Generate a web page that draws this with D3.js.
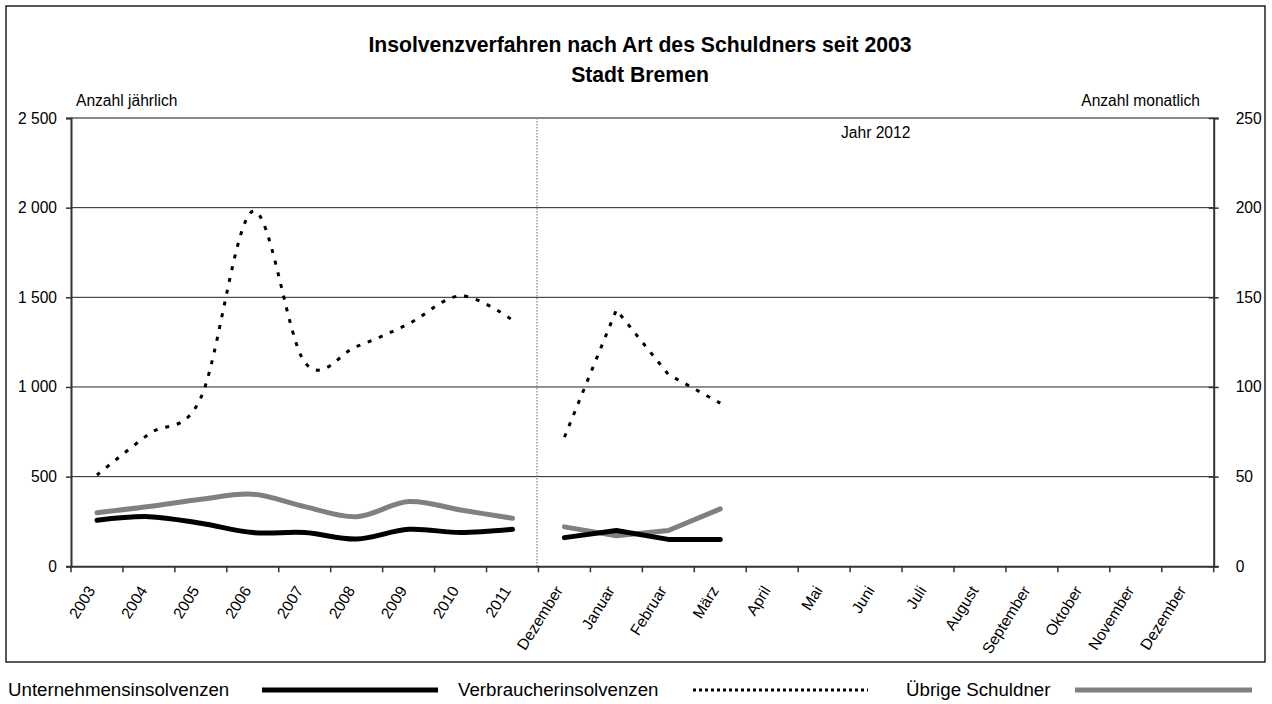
<!DOCTYPE html>
<html>
<head>
<meta charset="utf-8">
<script src="https://cdn.jsdelivr.net/npm/d3@7"></script>
<style>
  body { margin: 0; background: #fff; }
  svg { font-family: "Liberation Sans", Arial, sans-serif; }
</style>
</head>
<body>
<div id="chart"></div>
<script>
// Kategorien: Jahre 2003-2011, danach Monate (Dezember 2011 bis Dezember 2012)
var years = ["2003", "2004", "2005", "2006", "2007", "2008", "2009", "2010", "2011"];
var months = ["Dezember", "Januar", "Februar", "März", "April", "Mai", "Juni", "Juli",
              "August", "September", "Oktober", "November", "Dezember"];

// jährliche Werte (linke Achse)
var unternehmenJahr = [257, 277, 240, 188, 188, 152, 206, 188, 206];
var verbraucherJahr = [509, 738, 940, 1980, 1138, 1226, 1352, 1508, 1373];
var uebrigeJahr = [299, 333, 374, 402, 333, 277, 361, 314, 268];

// monatliche Werte (rechte Achse), Dezember 2011 bis März 2012
var unternehmenMonat = [16, 20, 15, 15];
var verbraucherMonat = [72, 143, 107, 91];
var uebrigeMonat = [22, 17, 20, 32];

var leftTicks = [0, 500, 1000, 1500, 2000, 2500];
var rightTicks = [0, 50, 100, 150, 200, 250];

var svgWidth = 1272;
var svgHeight = 704;

var margin = { top: 118, left: 71, right: 1272 - 1213.7, bottom: 704 - 566.3 };
var width = svgWidth - margin.left - margin.right;
var height = svgHeight - margin.top - margin.bottom;

var labels = years.concat(months);

var svg = d3.select("#chart")
  .append("svg")
  .attr("width", svgWidth)
  .attr("height", svgHeight);

// Rahmen um das Diagramm
svg.append("rect")
  .attr("x", 6).attr("y", 6)
  .attr("width", 1259).attr("height", 656)
  .attr("fill", "none")
  .attr("stroke", "#000")
  .attr("stroke-width", 1.3);

svg.append("text")
  .attr("x", 640).attr("y", 52)
  .attr("text-anchor", "middle")
  .attr("font-size", "21.2px")
  .attr("font-weight", "bold")
  .text("Insolvenzverfahren nach Art des Schuldners seit 2003");

svg.append("text")
  .attr("x", 640).attr("y", 82)
  .attr("text-anchor", "middle")
  .attr("font-size", "21.2px")
  .attr("font-weight", "bold")
  .text("Stadt Bremen");

var chartGroup = svg.append("g")
  .attr("transform", `translate(${margin.left}, ${margin.top})`);

var xScale = d3.scaleBand()
  .domain(d3.range(labels.length))
  .range([0, width])
  .paddingInner(0)
  .paddingOuter(0);

var yLeft = d3.scaleLinear().domain([0, 2500]).range([height, 0]);
var yRight = d3.scaleLinear().domain([0, 250]).range([height, 0]);

var cx = i => xScale(i) + xScale.bandwidth() / 2;
var fmt = d => d3.format(",")(d).replace(",", " ");

// Gitterlinien
chartGroup.selectAll(".grid")
  .data(leftTicks.filter(d => d > 0))
  .enter()
  .append("line")
  .attr("x1", 0).attr("x2", width)
  .attr("y1", d => yLeft(d)).attr("y2", d => yLeft(d))
  .attr("stroke", d => d === 2500 ? "#888" : "#222")
  .attr("stroke-width", d => d === 2500 ? 2 : 1);

// Trennlinie zwischen Jahren und Monaten
chartGroup.append("line")
  .attr("x1", xScale(years.length) - 1.5).attr("x2", xScale(years.length) - 1.5)
  .attr("y1", 0).attr("y2", height)
  .attr("stroke", "#999")
  .attr("stroke-width", 1.5)
  .attr("stroke-dasharray", "1.5,1.5");

chartGroup.append("text")
  .attr("x", 841 - margin.left).attr("y", 138.3 - margin.top)
  .attr("font-size", "15.6px")
  .text("Jahr 2012");

// Achsen
var leftAxis = d3.axisLeft(yLeft).tickValues(leftTicks).tickFormat(fmt).tickSize(5).tickPadding(9);
var rightAxis = d3.axisRight(yRight).tickValues(rightTicks).tickSize(5).tickPadding(17);
var bottomAxis = d3.axisBottom(xScale).tickValues([]).tickSize(0);

var gLeft = chartGroup.append("g").call(leftAxis);
var gRight = chartGroup.append("g").attr("transform", `translate(${width}, 0)`).call(rightAxis);
var gBottom = chartGroup.append("g").attr("transform", `translate(0, ${height})`).call(bottomAxis);

[gLeft, gRight, gBottom].forEach(g => {
  g.select(".domain").attr("stroke", "#333").attr("stroke-width", 2);
  g.selectAll(".tick line").attr("stroke", "#333").attr("stroke-width", 1.5);
  g.selectAll("text").attr("font-size", "15.6px").attr("fill", "#000")
    .attr("font-family", "Liberation Sans, Arial, sans-serif");
});
gRight.selectAll(".tick line").attr("x1", -5);

// Tick-Striche an den Bandgrenzen
chartGroup.selectAll(".xtick")
  .data(d3.range(labels.length + 1))
  .enter()
  .append("line")
  .attr("x1", i => i < labels.length ? xScale(i) : width)
  .attr("x2", i => i < labels.length ? xScale(i) : width)
  .attr("y1", height).attr("y2", height + 6)
  .attr("stroke", "#333").attr("stroke-width", 1.5);

chartGroup.selectAll(".xlabel")
  .data(labels)
  .enter()
  .append("text")
  .attr("text-anchor", "end")
  .attr("font-size", "15.6px")
  .attr("transform", (d, i) => `translate(${cx(i) - 1}, ${height + 24}) rotate(-58)`)
  .text(d => d);

chartGroup.append("text")
  .attr("x", 76 - margin.left).attr("y", 106 - margin.top)
  .attr("font-size", "15.6px")
  .text("Anzahl jährlich");

chartGroup.append("text")
  .attr("x", 1200 - margin.left).attr("y", 106 - margin.top)
  .attr("text-anchor", "end")
  .attr("font-size", "15.6px")
  .text("Anzahl monatlich");

// Linien
var lineYear = d3.line()
  .x((d, i) => cx(i))
  .y(d => yLeft(d))
  .curve(d3.curveCardinal.tension(0));

var lineMonth = d3.line()
  .x((d, i) => cx(years.length + i))
  .y(d => yRight(d));

var series = [
  { name: "Unternehmensinsolvenzen", jahr: unternehmenJahr, monat: unternehmenMonat, color: "#000", w: 5, dash: null, legendDash: null },
  { name: "Verbraucherinsolvenzen", jahr: verbraucherJahr, monat: verbraucherMonat, color: "#000", w: 3, dash: "4,8", legendDash: "3,3" },
  { name: "Übrige Schuldner", jahr: uebrigeJahr, monat: uebrigeMonat, color: "#808080", w: 5, dash: null, legendDash: null }
];

// Reihenfolge: grau, gepunktet, schwarz
[series[2], series[1], series[0]].forEach(s => {
  chartGroup.append("path")
    .datum(s.jahr)
    .attr("d", lineYear)
    .attr("fill", "none")
    .attr("stroke", s.color)
    .attr("stroke-width", s.w)
    .attr("stroke-dasharray", s.dash)
    .attr("stroke-linecap", s.dash ? "butt" : "round");

  chartGroup.append("path")
    .datum(s.monat)
    .attr("d", lineMonth)
    .attr("fill", "none")
    .attr("stroke", s.color)
    .attr("stroke-width", s.w)
    .attr("stroke-dasharray", s.dash)
    .attr("stroke-linecap", s.dash ? "butt" : "round")
    .attr("stroke-linejoin", "round");
});

// Legende
var legendX = [8, 458, 906];
var legendLine = [[262, 438], [693, 868], [1075, 1252]];

var legend = svg.selectAll(".legend")
  .data(series)
  .enter()
  .append("g");

legend.append("text")
  .attr("x", (d, i) => legendX[i])
  .attr("y", 696)
  .attr("font-size", "18.7px")
  .text(d => d.name);

legend.append("line")
  .attr("x1", (d, i) => legendLine[i][0])
  .attr("x2", (d, i) => legendLine[i][1])
  .attr("y1", 690).attr("y2", 690)
  .attr("stroke", d => d.color)
  .attr("stroke-width", (d, i) => i === 1 ? 3 : 5)
  .attr("stroke-dasharray", d => d.legendDash);
</script>
</body>
</html>
